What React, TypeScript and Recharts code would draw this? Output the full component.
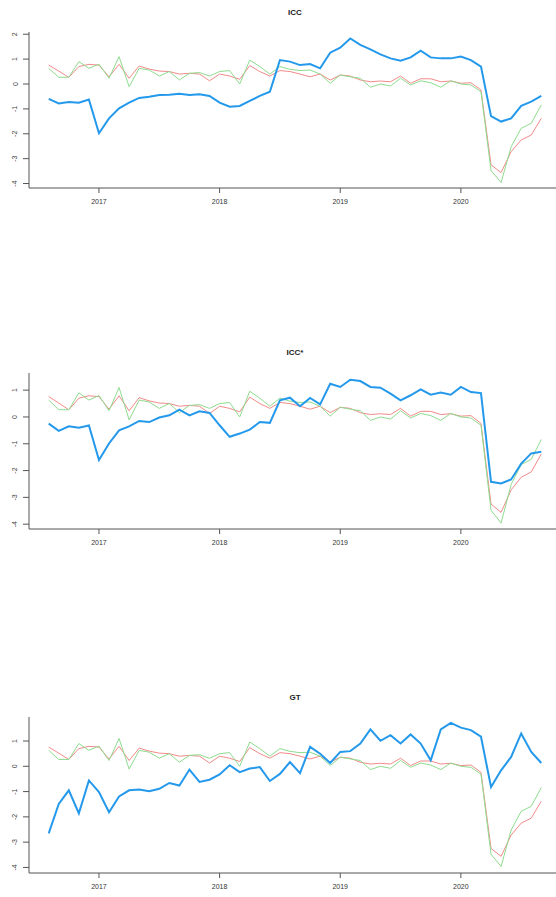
import React from "react";
import { LineChart, Line, XAxis, YAxis } from "recharts";

// Monthly observations, Aug 2016 .. Sep 2020 (50 months)
const startYear = 2016;
const startMonth = 8;
const nMonths = 50;
const monthLabels: string[] = Array.from({ length: nMonths }, (_, i) => {
  const m = startMonth - 1 + i;
  const y = startYear + Math.floor(m / 12);
  return `${y}-${String((m % 12) + 1).padStart(2, "0")}`;
});
const toYear = (s: string) => {
  const [y, m] = s.split("-").map(Number);
  return y + (m - 1) / 12;
};

const xTicks = [2017, 2018, 2019, 2020];

const redSeries = [
  0.76, 0.52, 0.27, 0.70, 0.79, 0.76, 0.29, 0.79, 0.23, 0.72,
  0.60, 0.52, 0.50, 0.40, 0.43, 0.40, 0.13, 0.40, 0.32, 0.19,
  0.74, 0.50, 0.32, 0.54, 0.50, 0.40, 0.29, 0.40, 0.16, 0.36,
  0.32, 0.16, 0.09, 0.12, 0.09, 0.32, 0.03, 0.21, 0.21, 0.09,
  0.12, 0.03, 0.05, -0.24, -3.25, -3.56, -2.72, -2.25, -2.05, -1.38,
];

const greenSeries = [
  0.63, 0.27, 0.27, 0.90, 0.63, 0.80, 0.23, 1.10, -0.11, 0.63,
  0.56, 0.32, 0.50, 0.16, 0.43, 0.46, 0.32, 0.50, 0.54, 0.00,
  0.96, 0.70, 0.40, 0.70, 0.59, 0.54, 0.56, 0.40, 0.03, 0.36,
  0.29, 0.23, -0.13, 0.00, -0.08, 0.23, -0.04, 0.13, 0.05, -0.13,
  0.13, 0.00, -0.04, -0.31, -3.48, -3.96, -2.52, -1.78, -1.58, -0.84,
];

const iccBlue = [
  -0.60, -0.78, -0.72, -0.75, -0.62, -1.98, -1.38, -0.98, -0.75, -0.56,
  -0.51, -0.44, -0.43, -0.39, -0.44, -0.41, -0.48, -0.75, -0.91, -0.88,
  -0.68, -0.48, -0.31, 0.96, 0.90, 0.76, 0.80, 0.63, 1.26, 1.46,
  1.83, 1.57, 1.39, 1.19, 1.03, 0.94, 1.07, 1.34, 1.07, 1.03,
  1.03, 1.10, 0.96, 0.70, -1.29, -1.51, -1.38, -0.88, -0.71, -0.48,
];

const iccStarBlue = [
  -0.25, -0.52, -0.35, -0.40, -0.32, -1.61, -0.99, -0.50, -0.35, -0.15,
  -0.19, -0.02, 0.06, 0.27, 0.06, 0.21, 0.15, -0.31, -0.74, -0.62,
  -0.47, -0.19, -0.22, 0.62, 0.72, 0.40, 0.71, 0.47, 1.24, 1.12,
  1.39, 1.34, 1.12, 1.09, 0.87, 0.62, 0.81, 1.03, 0.83, 0.91,
  0.83, 1.12, 0.93, 0.89, -2.42, -2.48, -2.33, -1.74, -1.36, -1.30,
];

const gtBlue = [
  -2.65, -1.49, -0.95, -1.86, -0.56, -1.02, -1.82, -1.19, -0.95, -0.92,
  -0.99, -0.89, -0.66, -0.76, -0.13, -0.62, -0.53, -0.32, 0.04, -0.23,
  -0.09, -0.03, -0.58, -0.30, 0.17, -0.27, 0.77, 0.50, 0.13, 0.57,
  0.60, 0.90, 1.46, 1.01, 1.23, 0.90, 1.26, 0.90, 0.24, 1.46,
  1.72, 1.53, 1.43, 1.17, -0.82, -0.16, 0.37, 1.30, 0.57, 0.13,
];

const panels = [
  { title: "ICC", blue: iccBlue, yDomain: [-4.18, 2.09], yTicks: [-4, -3, -2, -1, 0, 1, 2], top: 0, titleTop: 8 },
  { title: "ICC*", blue: iccStarBlue, yDomain: [-4.18, 1.64], yTicks: [-4, -3, -2, -1, 0, 1], top: 341, titleTop: 7 },
  { title: "GT", blue: gtBlue, yDomain: [-4.22, 1.95], yTicks: [-4, -3, -2, -1, 0, 1], top: 685, titleTop: 8 },
];

const FONT = "'Liberation Sans', Arial, sans-serif";
const AXIS = "#555";
const BLUE = "#2499EC";
const RED = "#F28A8A";
const GREEN = "#8EDC8E";

const YTick = (props: any) => {
  const { x, y, payload } = props;
  const tx = x - 6;
  return (
    <text
      x={tx}
      y={y}
      transform={`rotate(-90 ${tx} ${y})`}
      textAnchor="middle"
      dominantBaseline="central"
      fontSize={7}
      fontFamily={FONT}
      fill="#444"
    >
      {payload.value}
    </text>
  );
};

const XTick = (props: any) => {
  const { x, y, payload } = props;
  return (
    <text x={x} y={y + 9} textAnchor="middle" fontSize={7} fontFamily={FONT} fill="#333">
      {payload.value}
    </text>
  );
};

const Panel = ({ p }: { p: (typeof panels)[number] }) => {
  const data = monthLabels.map((m, i) => ({
    t: toYear(m),
    red: redSeries[i],
    green: greenSeries[i],
    blue: p.blue[i],
  }));
  return (
    <div style={{ position: "absolute", left: 0, top: p.top, width: 571, height: 220 }}>
      <div
        style={{
          position: "absolute",
          left: 0,
          width: 590,
          top: p.titleTop,
          textAlign: "center",
          fontFamily: FONT,
          fontWeight: "bold",
          fontSize: 8,
          color: "#222",
        }}
      >
        {p.title}
      </div>
      <LineChart width={571} height={220} data={data} margin={{ top: 32, right: 10, left: 0, bottom: 0 }}>
        <XAxis
          dataKey="t"
          type="number"
          domain={[2016.42, 2020.83]}
          ticks={xTicks}
          allowDataOverflow
          height={32}
          tickSize={5}
          tickLine={{ stroke: AXIS }}
          axisLine={{ stroke: AXIS }}
          tick={<XTick />}
          interval={0}
        />
        <XAxis
          xAxisId="top"
          dataKey="t"
          type="number"
          orientation="top"
          domain={[2016.42, 2020.83]}
          allowDataOverflow
          height={0}
          tick={false}
          tickLine={false}
          axisLine={{ stroke: AXIS }}
        />
        <YAxis
          type="number"
          domain={p.yDomain}
          ticks={p.yTicks}
          allowDataOverflow
          width={29}
          tickSize={6}
          tickMargin={2}
          tickLine={{ stroke: AXIS }}
          axisLine={{ stroke: AXIS }}
          tick={<YTick />}
          interval={0}
        />
        <Line type="linear" dataKey="red" stroke={RED} strokeWidth={1} dot={false} isAnimationActive={false} />
        <Line type="linear" dataKey="green" stroke={GREEN} strokeWidth={1} dot={false} isAnimationActive={false} />
        <Line type="linear" dataKey="blue" stroke={BLUE} strokeWidth={2} dot={false} isAnimationActive={false} />
      </LineChart>
    </div>
  );
}

export default function App() {
  return (
    <div
      style={{
        position: "absolute",
        left: 0,
        top: 0,
        width: 556,
        height: 897,
        overflow: "hidden",
        background: "#fff",
      }}
    >
      {panels.map((p) => (
        <Panel key={p.title} p={p} />
      ))}
    </div>
  );
}
